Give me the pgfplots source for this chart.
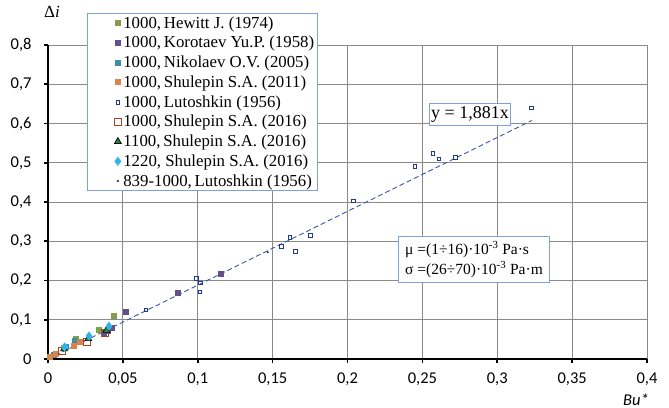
\documentclass[border=0pt]{standalone}
\usepackage{fontspec}
\setmainfont{Carlito}
\newfontfamily\tnr{Liberation Serif}
\usepackage{pgfplots}
\pgfplotsset{compat=1.18}
\definecolor{cHew}{HTML}{7F9F4A}
\definecolor{cKor}{HTML}{654F8A}
\definecolor{cNik}{HTML}{3E8FA5}
\definecolor{cShu}{HTML}{D7834A}
\definecolor{cLut}{HTML}{203A8F}
\definecolor{cBro}{HTML}{9B4A23}
\definecolor{cTri}{HTML}{1E8A3C}
\definecolor{cDia}{HTML}{2BB3E6}
\definecolor{cTrend}{HTML}{3A56A4}
\definecolor{cBox}{HTML}{7BA3D8}
\definecolor{cGrid}{HTML}{8A8A8A}
\begin{document}
\begin{tikzpicture}
\path[use as bounding box] (0,0) rectangle (669bp,408bp);
\begin{axis}[
  scale only axis, width=599bp, height=314bp,
  at={(48bp,49bp)}, anchor=south west,
  xmin=0, xmax=0.4, ymin=0, ymax=0.8,
  xtick={0,0.05,0.1,0.15,0.2,0.25,0.3,0.35,0.4},
  ytick={0,0.1,0.2,0.3,0.4,0.5,0.6,0.7,0.8},
  axis x line*=bottom, axis y line*=left,
  axis line style={-, black, line width=1.6bp},
  grid=major, major grid style={cGrid, line width=0.9bp},
  tick style={black, line width=1.6bp}, tick align=outside, major tick length=4bp,
  ticklabel style={font=\fontsize{16.5bp}{19bp}\selectfont, black},
  /pgf/number format/.cd, fixed, use comma, precision=2, assume math mode=true,
  /pgfplots/.cd,
  xticklabel style={yshift=-6bp},
  yticklabel style={xshift=-9bp},
  clip=false,
  legend style={at={(0.0651,1.1019)}, anchor=north west, draw=cBox, line width=0.9bp, fill=white,
    font=\tnr\fontsize{16.8bp}{18bp}\selectfont, inner xsep=2bp, inner ysep=2bp, row sep=4.6bp,
    nodes={inner xsep=1bp, inner ysep=1bp}},
  legend cell align=left,
  every axis plot post/.append style={legend image code/.code={\path (-24bp,0) (8bp,0); \draw[#1, line width=0.7bp] plot coordinates {(4bp,0)};}},
]
\addplot[only marks, mark=square*, mark size=2.5bp, draw=cHew, fill=cHew] coordinates {
(0.0102,0.029) (0.0185,0.052) (0.0336,0.0756) (0.0436,0.110)};
\addlegendentry{1000,\,Hewitt J. (1974)}
\addplot[only marks, mark=square*, mark size=2.5bp, draw=cKor, fill=cKor] coordinates {
(0.037,0.067) (0.040,0.073) (0.0425,0.081) (0.052,0.120) (0.0868,0.169) (0.1155,0.217)};
\addlegendentry{1000,\,Korotaev Yu.P. (1958)}
\addplot[only marks, mark=square*, mark size=2.5bp, draw=cNik, fill=cNik] coordinates {
(0.0116,0.031) (0.018,0.046) (0.004,0.011)};
\addlegendentry{1000,\,Nikolaev O.V. (2005)}
\addplot[only marks, mark=square*, mark size=2.5bp, draw=cShu, fill=cShu] coordinates {
(0.0013,0.005) (0.005,0.0135) (0.017,0.035) (0.021,0.043)};
\addlegendentry{1000,\,Shulepin S.A. (2011)}
\addplot[only marks, mark=square, mark size=1.9bp, draw=cLut, line width=0.8bp] coordinates {
(0.0654,0.125) (0.0993,0.205) (0.102,0.194) (0.1015,0.171) (0.1556,0.286) (0.1616,0.310)
(0.165,0.275) (0.175,0.315) (0.204,0.403) (0.245,0.490) (0.257,0.524) (0.261,0.510)
(0.272,0.514) (0.323,0.640)};
\addlegendentry{1000,\,Lutoshkin (1956)}
\addplot[only marks, mark=square, mark size=3.5bp, draw=cBro, line width=0.9bp] coordinates {
(0.0096,0.020) (0.0258,0.043) (0.038,0.067)};
\addlegendentry{1000,\,Shulepin S.A. (2016)}
\addplot[only marks, mark=triangle*, mark size=4bp, draw=black, fill=cTri, line width=0.5bp] coordinates {
(0.0107,0.026) (0.0269,0.052) (0.039,0.073)};
\addlegendentry{1100,\,Shulepin S.A. (2016)}
\addplot[only marks, mark=diamond*, mark size=4.2bp, draw=cDia!80!white, fill=cDia] coordinates {
(0.0111,0.031) (0.0274,0.059) (0.0407,0.084)};
\addlegendentry{1220, Shulepin S.A. (2016)}
\addplot[only marks, mark=*, mark size=0.8bp, draw=cLut, fill=cLut] coordinates {
(0.1467,0.272)};
\addlegendentry{839-1000,\,Lutoshkin (1956)}
\addplot[forget plot, cTrend, line width=0.9bp, dash pattern=on 5bp off 3bp] coordinates {(0,0) (0.323,0.6076)};
\node[draw=cBox, line width=0.9bp, fill=white, inner xsep=2bp, inner ysep=3bp,
  font=\tnr\fontsize{18bp}{20bp}\selectfont] at (axis cs:0.2818,0.623) {y = 1,881x};
\node[draw=cBox, line width=0.9bp, fill=white, inner xsep=7bp, inner ysep=5bp, align=left,
  font=\tnr\fontsize{15.5bp}{20bp}\selectfont] at (axis cs:0.2845,0.2535)
  {μ =(1÷16)·10\textsuperscript{-3} Pa·s\\σ =(26÷70)·10\textsuperscript{-3} Pa·m};
\end{axis}
\node[font=\tnr\fontsize{17bp}{18bp}\selectfont] at (52bp,396bp) {Δ\textit{i}};
\node[font=\fontsize{16.5bp}{18bp}\selectfont\itshape, anchor=base] at (636bp,3bp) {Bu*};
\end{tikzpicture}
\end{document}
